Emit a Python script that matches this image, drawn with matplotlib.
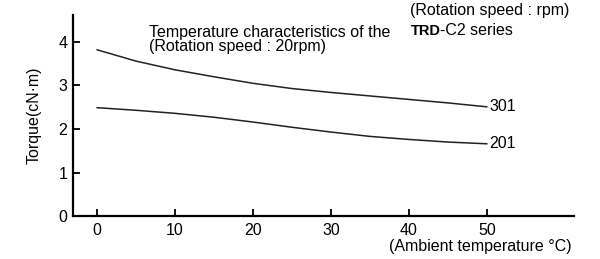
import matplotlib
matplotlib.use('Agg')
import matplotlib.pyplot as plt

plt.rcParams['font.family'] = ['Liberation Sans', 'DejaVu Sans']

temp = [0, 5, 10, 15, 20, 25, 30, 35, 40, 45, 50]
torque_301 = [3.82, 3.56, 3.36, 3.20, 3.05, 2.93, 2.84, 2.76, 2.68, 2.60, 2.51]
torque_201 = [2.49, 2.43, 2.36, 2.27, 2.16, 2.04, 1.93, 1.83, 1.76, 1.70, 1.66]
series_labels = ['301', '201']
xticks = [0, 10, 20, 30, 40, 50]
yticks = [0, 1, 2, 3, 4]

fs = 11.5

fig = plt.figure(figsize=(6, 2.59), dpi=100)
ax = fig.add_axes([0.1217, 0.166, 0.835, 0.776])

ax.plot(temp, torque_301, color='#222222', lw=1.1)
ax.plot(temp, torque_201, color='#222222', lw=1.1)
ax.text(temp[-1] + 0.3, torque_301[-1], series_labels[0], fontsize=fs, va='center', ha='left')
ax.text(temp[-1] + 0.3, torque_201[-1], series_labels[1], fontsize=fs, va='center', ha='left')

ax.set_xlim(-3.1, 61.2)
ax.set_ylim(0, 4.62)
ax.set_xticks(xticks)
ax.set_yticks(yticks)
ax.tick_params(direction='in', length=5, width=1.3, labelsize=fs, colors='black')
ax.tick_params(axis='x', pad=5)
ax.tick_params(axis='y', pad=4)
for s in ['top', 'right']:
    ax.spines[s].set_visible(False)
for s in ['left', 'bottom']:
    ax.spines[s].set_linewidth(1.6)

ax.set_ylabel('Torque(cN·m)', fontsize=fs, labelpad=12)
fig.text(0.952, 0.018, '(Ambient temperature °C)', fontsize=fs, ha='right', va='bottom')

fig.text(0.248, 0.79, 'Temperature characteristics of the\n(Rotation speed : 20rpm)',
         fontsize=fs, ha='left', va='bottom', linespacing=0.95)
fig.text(0.684, 0.93, '(Rotation speed : rpm)', fontsize=fs, ha='left', va='bottom')
trd = fig.text(0.684, 0.855, 'TRD', fontsize=10.5, fontweight='bold', ha='left', va='bottom')
ax.annotate('-C2 series', xy=(1, 0), xycoords=trd, fontsize=fs, ha='left', va='bottom')

fig.savefig('out.png', dpi=100)
